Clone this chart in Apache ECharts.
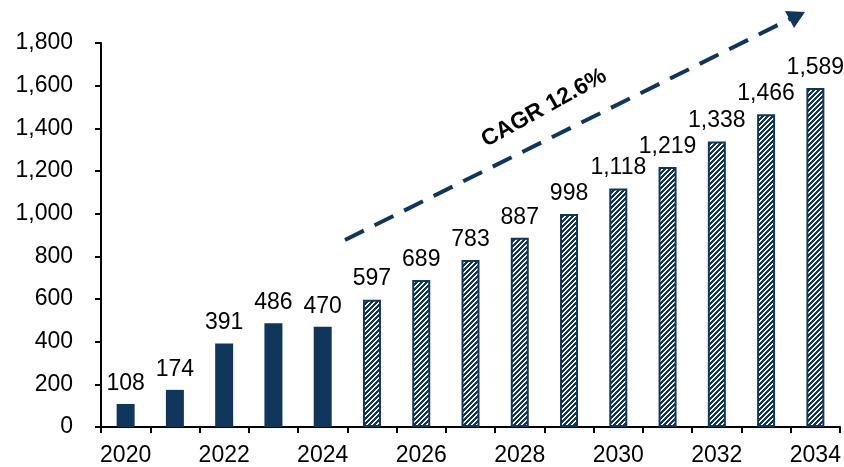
<!DOCTYPE html>
<html>
<head>
<meta charset="utf-8">
<script src="https://cdn.jsdelivr.net/npm/echarts@6/dist/echarts.min.js"></script>
<style>
  html, body { margin: 0; padding: 0; background: #fff; }
  #chart { width: 844px; height: 467px; }
</style>
</head>
<body>
<div id="chart"></div>
<script>
// Market size by year: actuals through 2024, forecast afterwards
const years = ['2020','2021','2022','2023','2024','2025','2026','2027','2028','2029','2030','2031','2032','2033','2034'];
const actualValues = [108, 174, 391, 486, 470];
const forecastValues = [597, 689, 783, 887, 998, 1118, 1219, 1338, 1466, 1589];
const cagrText = 'CAGR 12.6%';

const NAVY = '#11365B';
const FONT = 'Liberation Sans, Arial, sans-serif';

// Pixel-crisp diagonal white stripes on navy for forecast bars
function stripePattern() {
  const s = 5;
  const c = document.createElement('canvas');
  c.width = s; c.height = s;
  const g = c.getContext('2d');
  g.fillStyle = NAVY;
  g.fillRect(0, 0, s, s);
  g.fillStyle = '#ffffff';
  for (let y = 0; y < s; y++) {
    for (let x = 0; x < s; x++) {
      if ((x + y) % s < 2) g.fillRect(x, y, 1, 1);
    }
  }
  return c;
}

const actualSeries = years.map((y, i) => i < actualValues.length ? actualValues[i] : '-');
const forecastSeries = years.map((y, i) => i >= actualValues.length ? forecastValues[i - actualValues.length] : '-');

const labelStyle = {
  show: true,
  position: 'top',
  distance: 9,
  color: '#000',
  fontFamily: FONT,
  fontSize: 23,
  formatter: p => p.value.toLocaleString('en-US')
};

const chart = echarts.init(document.getElementById('chart'), null, { renderer: 'canvas' });

chart.setOption({
  animation: false,
  backgroundColor: '#fff',
  grid: { left: 101, right: 4, top: 43, bottom: 38, containLabel: false },
  xAxis: {
    type: 'category',
    data: years,
    boundaryGap: true,
    axisLine: { lineStyle: { color: '#000', width: 2 } },
    axisTick: { show: true, interval: 0, length: 6, lineStyle: { color: '#000', width: 2 } },
    axisLabel: {
      interval: 1,
      color: '#000',
      fontFamily: FONT,
      fontSize: 23,
      margin: 17
    },
    splitLine: { show: false }
  },
  yAxis: {
    type: 'value',
    min: 0,
    max: 1800,
    interval: 200,
    axisLine: { show: true, lineStyle: { color: '#000', width: 2 } },
    axisTick: { show: true, length: 6, lineStyle: { color: '#000', width: 2 } },
    axisLabel: {
      color: '#000',
      fontFamily: FONT,
      fontSize: 23,
      margin: 28,
      formatter: v => v.toLocaleString('en-US')
    },
    splitLine: { show: false }
  },
  series: [
    {
      name: 'Actual',
      type: 'bar',
      data: actualSeries,
      barWidth: 18,
      barGap: '-100%',
      itemStyle: { color: NAVY },
      label: labelStyle
    },
    {
      name: 'Forecast',
      type: 'bar',
      data: forecastSeries,
      barWidth: 18,
      barGap: '-100%',
      itemStyle: {
        color: { image: stripePattern(), repeat: 'repeat' },
        borderColor: NAVY,
        borderWidth: 2
      },
      label: labelStyle
    }
  ],
  graphic: [
    {
      type: 'line',
      shape: { x1: 345, y1: 240, x2: 790, y2: 19 },
      style: { stroke: NAVY, lineWidth: 4, lineDash: [21, 12] },
      z: 10
    },
    {
      type: 'polygon',
      shape: { points: [[805, 12], [785, 11], [794, 28]] },
      style: { fill: NAVY },
      z: 10
    },
    {
      type: 'text',
      x: 544,
      y: 108,
      rotation: 29 * Math.PI / 180,
      style: {
        text: cagrText,
        fill: '#000',
        font: 'bold 23px "Liberation Sans", Arial, sans-serif',
        align: 'center',
        verticalAlign: 'middle'
      },
      z: 10
    }
  ]
});
</script>
</body>
</html>
